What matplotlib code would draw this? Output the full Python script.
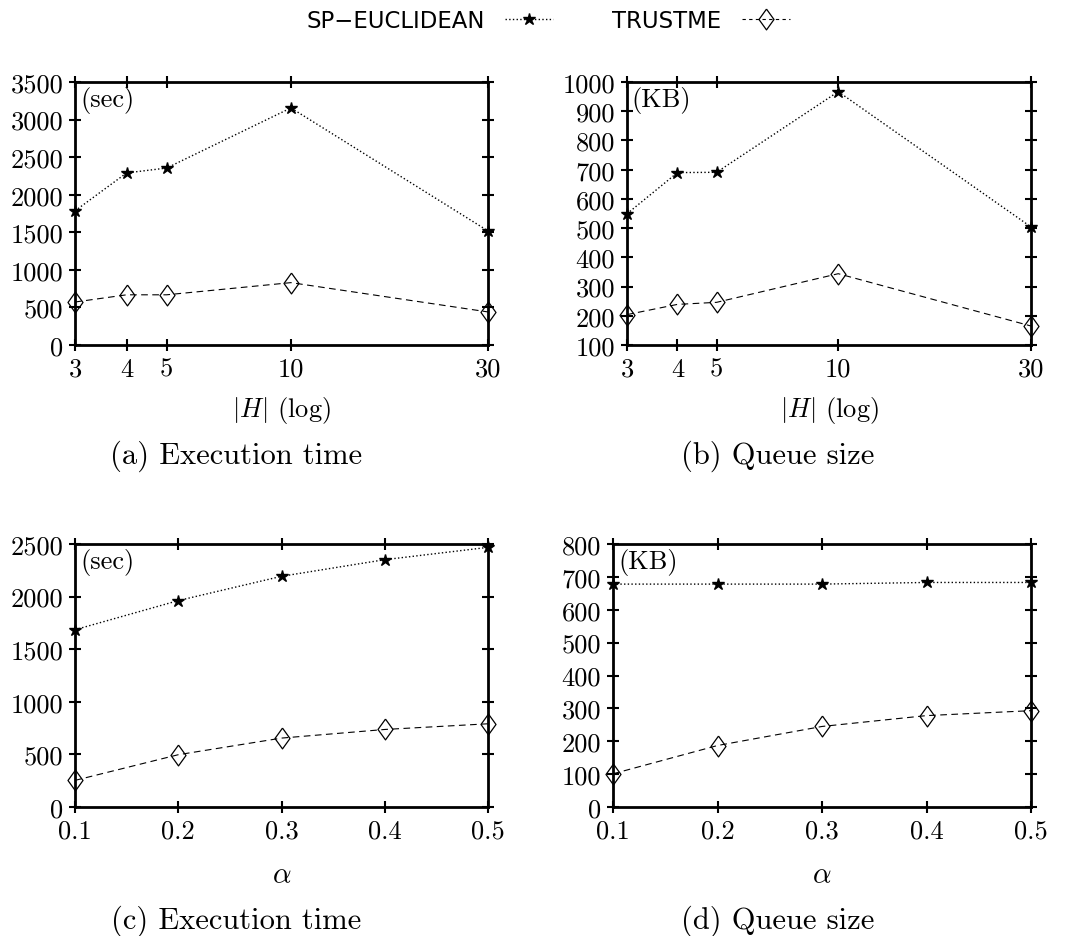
import numpy as np
import matplotlib
matplotlib.use('Agg')
import matplotlib.pyplot as plt
from matplotlib.lines import Line2D
from matplotlib.ticker import NullFormatter, NullLocator

plt.rcParams['mathtext.fontset'] = 'cm'
plt.rcParams['font.family'] = 'cmr10'
plt.rcParams['axes.formatter.use_mathtext'] = True

# top row: |H| (log scale)
h_vals = [3, 4, 5, 10, 30]
time_sp_h = [1785, 2290, 2355, 3155, 1518]
time_tm_h = [572, 668, 668, 830, 440]
queue_sp_h = [549, 690, 691, 967, 504]
queue_tm_h = [204, 239, 246, 344, 165]

# bottom row: alpha
alpha_vals = [0.1, 0.2, 0.3, 0.4, 0.5]
time_sp_a = [1685, 1962, 2193, 2351, 2468]
time_tm_a = [253, 497, 655, 737, 791]
queue_sp_a = [678, 678, 678, 683, 683]
queue_tm_a = [101, 187, 245, 278, 293]

W, H = 1070, 937
fig = plt.figure(figsize=(W / 100, H / 100), dpi=100)

# tall open diamond like gnuplot's
diamond = [(0, 1), (0.72, 0), (0, -1), (-0.72, 0), (0, 1)]


def box(l, r, t, b):
    return [l / W, 1 - b / H, (r - l) / W, (b - t) / H]


def style(ax, yticks, unit):
    for s in ax.spines.values():
        s.set_linewidth(2.0)
    ax.tick_params(direction='inout', length=9, width=1.5, labelsize=19,
                   top=True, right=True, which='major', pad=4)
    ax.xaxis.set_minor_locator(NullLocator())
    ax.xaxis.set_minor_formatter(NullFormatter())
    ax.set_yticks(yticks)
    ax.set_yticklabels([str(v) for v in yticks])
    ax.set_ylim(yticks[0], yticks[-1])
    ax.text(0.012, 0.985, unit, transform=ax.transAxes, ha='left', va='top',
            fontsize=19)


def draw(ax, x, sp, tm):
    ax.plot(x, sp, color='black', linestyle=':', linewidth=1.0,
            marker='*', markersize=9, clip_on=False, zorder=3)
    ax.plot(x, tm, color='black', linestyle=(0, (6, 4)), linewidth=0.8,
            marker=diamond, markersize=15, markerfacecolor='none',
            markeredgewidth=0.9, clip_on=False, zorder=3)


ax_a = fig.add_axes(box(75, 488, 83, 346))
ax_b = fig.add_axes(box(627, 1031, 83, 346))
ax_c = fig.add_axes(box(75, 488, 545, 808))
ax_d = fig.add_axes(box(613, 1031, 545, 808))

for ax, sp, tm, yt, unit in [(ax_a, time_sp_h, time_tm_h, list(range(0, 3501, 500)), '(sec)'),
                             (ax_b, queue_sp_h, queue_tm_h, list(range(100, 1001, 100)), '(KB)')]:
    draw(ax, h_vals, sp, tm)
    ax.set_xscale('log')
    ax.set_xlim(3, 30)
    ax.set_xticks(h_vals)
    ax.set_xticklabels([str(v) for v in h_vals])
    style(ax, yt, unit)
    ax.set_xlabel(r'$|H|$ (log)', fontsize=19, labelpad=10)

for ax, sp, tm, yt, unit in [(ax_c, time_sp_a, time_tm_a, list(range(0, 2501, 500)), '(sec)'),
                             (ax_d, queue_sp_a, queue_tm_a, list(range(0, 801, 100)), '(KB)')]:
    draw(ax, alpha_vals, sp, tm)
    ax.set_xlim(0.1, 0.5)
    ax.set_xticks(alpha_vals)
    ax.set_xticklabels([str(v) for v in alpha_vals])
    style(ax, yt, unit)
    ax.set_xlabel(r'$\alpha$', fontsize=21, labelpad=14)

captions = [('(a) Execution time', 236, 456), ('(b) Queue size', 778, 456),
            ('(c) Execution time', 236, 921), ('(d) Queue size', 778, 921)]
for txt, cx, cy in captions:
    fig.text(cx / W, 1 - cy / H, txt, ha='center', va='center', fontsize=22)

handles = [Line2D([], [], color='black', linestyle=':', linewidth=1.0,
                  marker='*', markersize=9),
           Line2D([], [], color='black', linestyle=(0, (3, 3)), linewidth=0.8,
                  marker=diamond, markersize=15, markerfacecolor='none',
                  markeredgewidth=0.9)]
fig.legend(handles, ['SP\u2212EUCLIDEAN', 'TRUSTME'], loc='center',
           bbox_to_anchor=(548 / W, 1 - 21 / H), ncol=2, frameon=False,
           markerfirst=False, handlelength=2.1, columnspacing=2.6,
           handletextpad=0.9,
           prop={'family': 'DejaVu Sans', 'size': 16.4}, borderaxespad=0)

fig.savefig('out.png', dpi=100)
